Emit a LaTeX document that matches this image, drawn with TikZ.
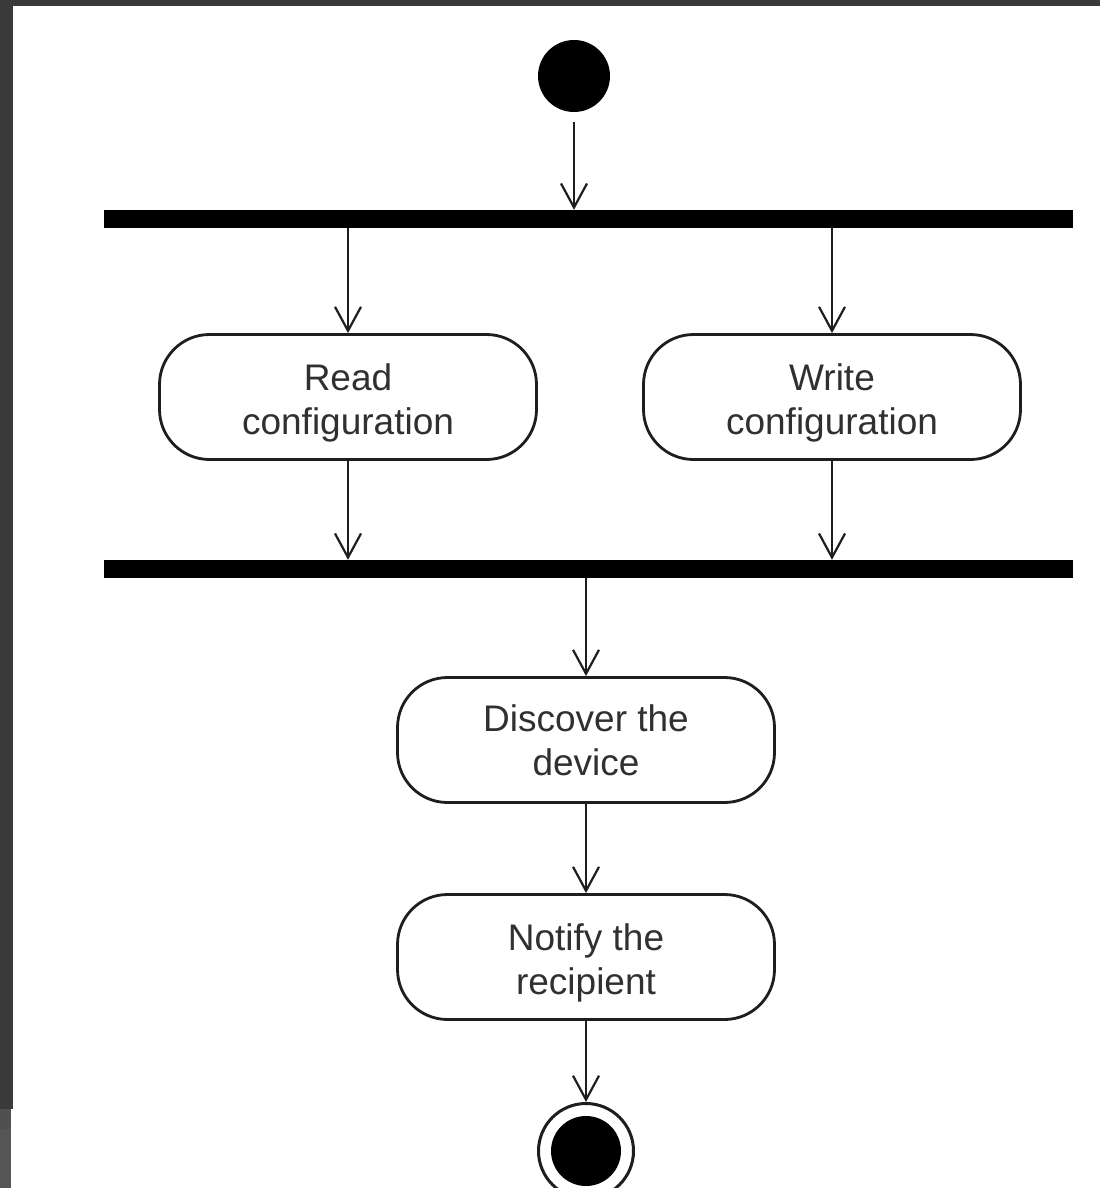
\documentclass[tikz,border=0pt]{standalone}
\usepackage{fontspec}
\setmainfont{Liberation Sans}
\usetikzlibrary{arrows.meta}
\definecolor{frame}{HTML}{3A3A3A}
\definecolor{frameb}{HTML}{555555}
\definecolor{ink}{HTML}{1E1E1E}
\definecolor{txtc}{HTML}{303030}
\begin{document}
\begin{tikzpicture}[x=1pt,y=-1pt,
  action/.style={draw=ink,line width=2.8pt,rounded corners=50pt,minimum width=377pt,minimum height=125pt,inner sep=0pt},
  label text/.style={align=center,font=\fontsize{37}{44}\selectfont,text=txtc,inner sep=0pt},
  bar/.style={fill=black,minimum width=969pt,minimum height=18pt,inner sep=0pt},
  flow/.style={draw=ink,line width=2.2pt,-{Straight Barb[length=24pt,width=26pt,line width=2.2pt]}},
]
\useasboundingbox (0,0) rectangle (1100,1188);
\fill[white] (0,0) rectangle (1100,1188);
% frame strips
\fill[frame] (0,0) rectangle (1100,6);
\fill[frame] (0,0) rectangle (13,1109);
\fill[frameb!80!frame] (0,1109) rectangle (11,1129);
\fill[frameb] (0,1129) rectangle (11,1188);

\node[circle,fill=black,minimum size=72pt,inner sep=0pt] (start) at (574,76) {};
\node[bar] (fork) at (588.5,219) {};
\node[action] (read) at (348,397) {};
\node[label text] (readt) at ([yshift=-6pt]read.center) {Read\\configuration};
\node[action] (write) at (832,397) {};
\node[label text] (writet) at ([yshift=-6pt]write.center) {Write\\configuration};
\node[bar] (join) at (588.5,569) {};
\node[action] (disc) at (586,740) {};
\node[label text] (disct) at (disc.center) {Discover the\\device};
\node[action] (notify) at (586,957) {};
\node[label text] (notifyt) at ([yshift=-6pt]notify.center) {Notify the\\recipient};
\node[circle,draw=ink,line width=3pt,minimum size=95pt,inner sep=0pt,fill=white] (end) at (586,1151) {};
\node[circle,fill=black,minimum size=70pt,inner sep=0pt] (endin) at (586,1151) {};

\draw[flow] (574,122) -- (fork.north -| start);
\draw[flow] (fork.south -| read) -- (read.north);
\draw[flow] (fork.south -| write) -- (write.north);
\draw[flow] (read.south) -- (join.north -| read);
\draw[flow] (write.south) -- (join.north -| write);
\draw[flow] (join.south -| disc) -- (disc.north);
\draw[flow] (disc.south) -- (notify.north);
\draw[flow] (notify.south) -- (end.north);
\end{tikzpicture}
\end{document}
